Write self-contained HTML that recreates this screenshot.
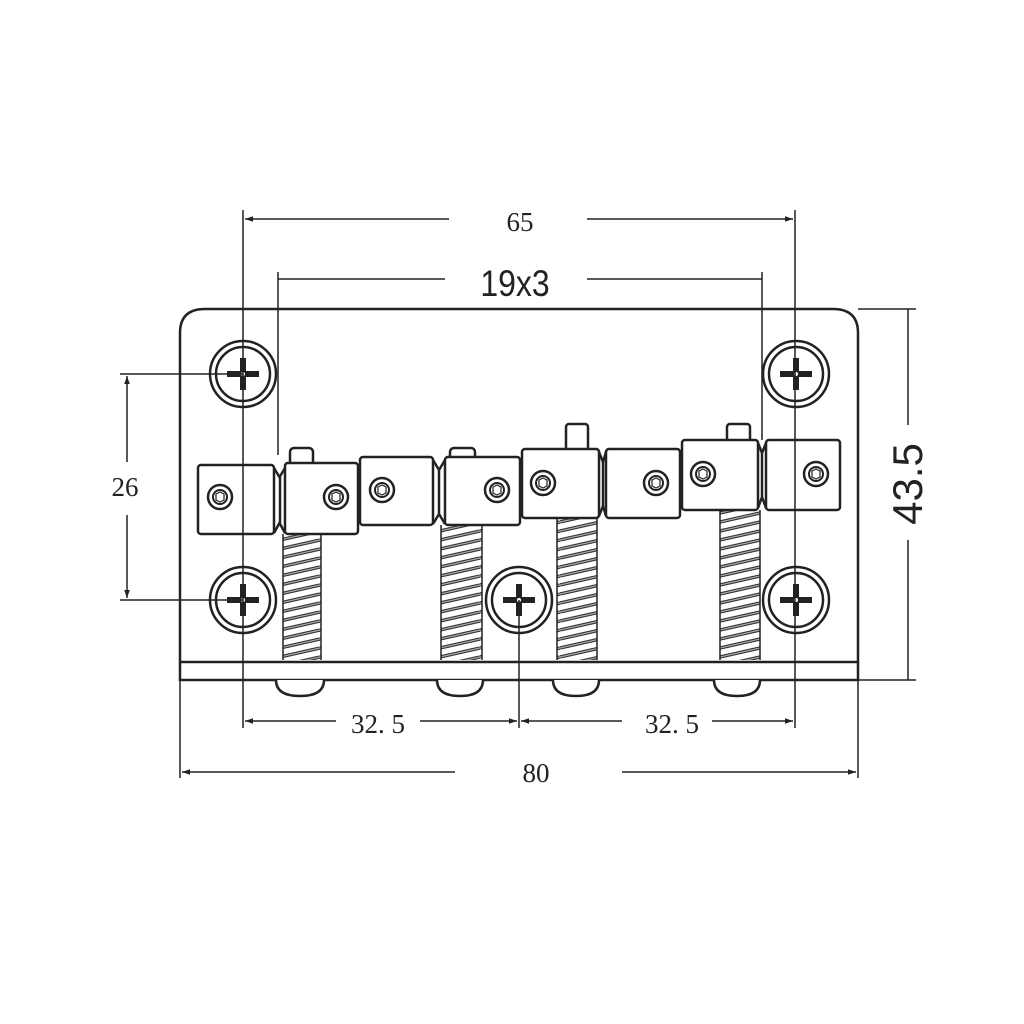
<!DOCTYPE html>
<html><head><style>
html,body{margin:0;padding:0;background:#fff;}
svg{display:block;}
.l{stroke:#222;stroke-width:1.5;fill:none}
.t{stroke:#222;stroke-width:2.5;fill:#fff}
</style></head><body>
<svg width="1024" height="1024" viewBox="0 0 1024 1024" xmlns="http://www.w3.org/2000/svg">
<defs>
<marker id="a" viewBox="0 0 10 10" refX="10" refY="5" markerWidth="10" markerHeight="8" orient="auto-start-reverse" markerUnits="userSpaceOnUse"><path d="M0,1.5 L10,5 L0,8.5 z" fill="#222"/></marker>
<pattern id="sp" patternUnits="userSpaceOnUse" width="40" height="9">
<path d="M0,9 L40,0 M0,0 L40,-9 M0,18 L40,9" stroke="#333" stroke-width="3.4"/>
<path d="M0,9 L40,0 M0,0 L40,-9 M0,18 L40,9" stroke="#aaa" stroke-width="1.2"/>
</pattern>
<g id="scr">
<circle r="33" class="t"/><circle r="27" class="t" stroke-width="2"/>
<path d="M-3,-16 h6 v13 h13 v6 h-13 v13 h-6 v-13 h-13 v-6 h13z" fill="#222"/>
<circle r="2" fill="#fff"/>
</g>
<g id="hex"><circle r="12" class="t" stroke-width="2.5"/><circle r="7" fill="none" stroke="#222" stroke-width="2"/><polygon points="-4,-3 0,-5 4,-3 4,3 0,5 -4,3" fill="none" stroke="#222" stroke-width="1.2"/></g>
</defs>

<path d="M180,680 V333 Q180,309 205,309 H833 Q858,309 858,333 V680 Z" class="t"/>
<line x1="180" y1="662" x2="858" y2="662" stroke="#222" stroke-width="2.5"/>

<g class="t" stroke-width="2">
<path d="M276,680 Q276,696 300,696 Q324,696 324,680"/>
<path d="M437,680 Q437,696 460,696 Q483,696 483,680"/>
<path d="M553,680 Q553,696 576,696 Q599,696 599,680"/>
<path d="M714,680 Q714,696 737,696 Q760,696 760,680"/>
</g>

<rect x="283" y="534" width="38" height="126" fill="url(#sp)"/>
<rect x="441" y="525" width="41" height="135" fill="url(#sp)"/>
<rect x="557" y="518" width="40" height="142" fill="url(#sp)"/>
<rect x="720" y="510" width="40" height="150" fill="url(#sp)"/>
<g class="l" stroke-width="2"><path d="M283,534V660M321,534V660M441,525V660M482,525V660M557,518V660M597,518V660M720,510V660M760,510V660"/></g>

<use href="#scr" x="243" y="374"/><use href="#scr" x="796" y="374"/>
<use href="#scr" x="243" y="600"/><use href="#scr" x="519" y="600"/><use href="#scr" x="796" y="600"/>

<g class="t">
<rect x="290" y="448" width="23" height="20" rx="4"/>
<rect x="450" y="448" width="25" height="15" rx="4"/>
<rect x="566" y="424" width="22" height="30" rx="3"/>
<rect x="727" y="424" width="23" height="22" rx="3"/>
<rect x="198" y="465" width="76" height="69" rx="3"/>
<rect x="285" y="463" width="73" height="71" rx="3"/>
<path d="M274,468 L280,478 V522 L274,533 M285,468 L279,478 M285,533 L279,522" fill="none"/>
<rect x="360" y="457" width="73" height="68" rx="3"/>
<rect x="445" y="457" width="75" height="68" rx="3"/>
<path d="M433,460 L439,470 V514 L433,524 M445,460 L439,470 M445,524 L439,514" fill="none"/>
<rect x="522" y="449" width="77" height="69" rx="3"/>
<rect x="606" y="449" width="74" height="69" rx="3"/>
<path d="M599,452 L603,462 V506 L599,516 M606,452 L603,462 M606,516 L603,506" fill="none"/>
<rect x="682" y="440" width="76" height="70" rx="3"/>
<rect x="766" y="440" width="74" height="70" rx="3"/>
<path d="M758,443 L762,453 V497 L758,508 M766,443 L762,453 M766,508 L762,497" fill="none"/>
</g>
<use href="#hex" x="220" y="497"/><use href="#hex" x="336" y="497"/>
<use href="#hex" x="382" y="490"/><use href="#hex" x="497" y="490"/>
<use href="#hex" x="543" y="483"/><use href="#hex" x="656" y="483"/>
<use href="#hex" x="703" y="474"/><use href="#hex" x="816" y="474"/>

<g class="l">
<path d="M243,210 V728 M795,210 V728"/>
<path d="M449,219 H245" marker-end="url(#a)"/><path d="M587,219 H793" marker-end="url(#a)"/>
<path d="M278,272 V455 M762,272 V440"/>
<path d="M445,279 H278 M587,279 H762"/>
<path d="M120,374 H243 M120,600 H243"/>
<path d="M127,462 V376" marker-end="url(#a)"/><path d="M127,515 V598" marker-end="url(#a)"/>
<path d="M858,309 H916 M858,680 H916 M908,309 V425 M908,540 V680"/>
<path d="M519,600 V728"/>
<path d="M336,721 H245" marker-end="url(#a)"/><path d="M420,721 H517" marker-end="url(#a)"/>
<path d="M622,721 H521" marker-end="url(#a)"/><path d="M712,721 H793" marker-end="url(#a)"/>
<path d="M180,680 V778 M858,680 V778"/>
<path d="M455,772 H182" marker-end="url(#a)"/><path d="M622,772 H856" marker-end="url(#a)"/>
</g>
<g fill="#222" text-anchor="middle">
<text x="520" y="231" font-family="Liberation Serif, serif" font-size="27">65</text>
<text transform="translate(515,296) scale(1,1.15)" font-family="Liberation Sans, sans-serif" font-size="32">19x3</text>
<text x="125" y="496" font-family="Liberation Serif, serif" font-size="27">26</text>
<text x="378" y="733" font-family="Liberation Serif, serif" font-size="27">32. 5</text>
<text x="672" y="733" font-family="Liberation Serif, serif" font-size="27">32. 5</text>
<text x="536" y="782" font-family="Liberation Serif, serif" font-size="27">80</text>
<text transform="translate(922,484) rotate(-90)" font-family="Liberation Sans, sans-serif" font-size="42">43.5</text>
</g>
</svg>
</body></html>
